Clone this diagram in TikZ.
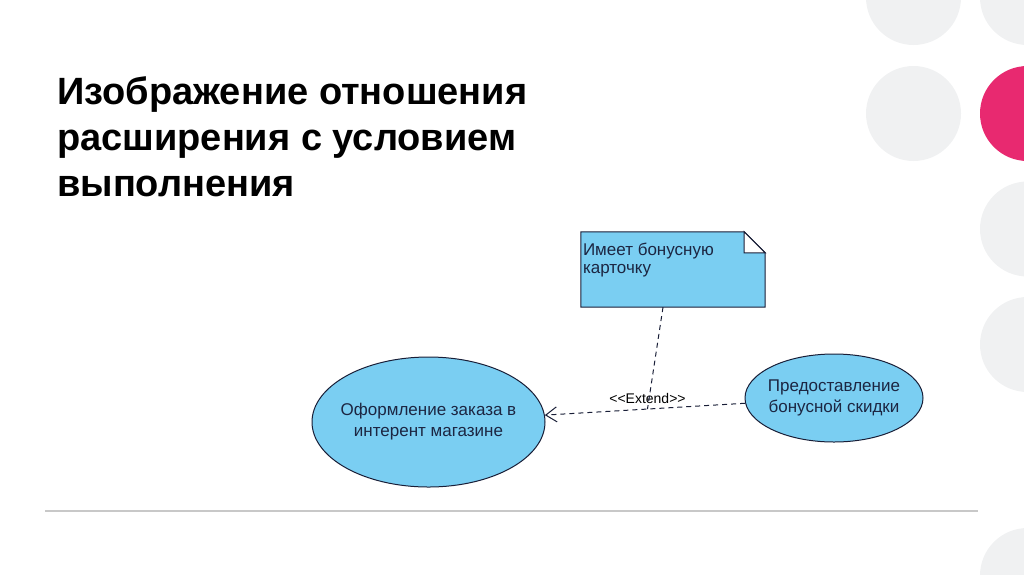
\documentclass[tikz,border=0pt]{standalone}
\usepackage{fontspec}
\setmainfont{Liberation Sans}
\newfontfamily\umlfont{Liberation Sans}
\usetikzlibrary{shapes.geometric, arrows.meta, positioning, calc, backgrounds}
\definecolor{colCase}{RGB}{122,206,242}
\definecolor{colCaseBorder}{RGB}{25,30,55}
\definecolor{colCaseText}{RGB}{28,38,66}
\definecolor{colDot}{RGB}{240,241,242}
\definecolor{colPink}{RGB}{232,41,112}
\definecolor{colRule}{RGB}{200,200,200}

\begin{document}
\begin{tikzpicture}[
            x=1pt, y=-1pt,
            usecase/.style={ellipse, draw=colCaseBorder, fill=colCase, line width=1pt, inner sep=-8pt, align=center, text=colCaseText, font=\umlfont\fontsize{17}{21}\selectfont},
            note/.style={rectangle, draw=none, fill=none, minimum width=184pt, minimum height=75pt, inner sep=0pt},
            notelbl/.style={anchor=north west, inner xsep=2pt, inner ysep=11pt, align=left, text=colCaseText, font=\umlfont\fontsize{17}{18}\selectfont},
            extendline/.style={dash pattern=on 5pt off 4pt, line width=1pt, colCaseBorder},
            lbl/.style={font=\umlfont\fontsize{14}{16}\selectfont, inner sep=1pt}
        ]

        \useasboundingbox (0,0) rectangle (1024,574);
        \clip (0,0) rectangle (1024,574);

        %% ── DÉCOR : CERCLES À DROITE ──────────────────────────
        \foreach \cy in {-2.5,113.5}
            \fill[colDot] (913.5,\cy) circle (47.5pt);
        \foreach \cy in {-2.5,229,344.5,575.5}
            \fill[colDot] (1027.5,\cy) circle (47.5pt);
        \fill[colPink] (1027.5,113.5) circle (47.5pt);

        \draw[colRule, line width=2pt] (45,511) -- (978,511);

        %% ── TITRE ──────────────────────────
        \node[anchor=north west, align=left, inner sep=0pt, font=\fontsize{38}{46}\selectfont\bfseries] (title) at (57,76)
            {Изображение отношения\\расширения с условием\\выполнения};

        %% ── PRÉCÉDENTS ──────────────────────────
        \node[usecase, minimum width=233pt, minimum height=130pt] (order) at (428.5,422) {Оформление заказа в\\интерент магазине};
        \node[usecase, minimum width=178pt, minimum height=88pt] (bonus) at (834,398) {Предоставление\\бонусной скидки};

        %% note avec coin plié
        \node[note, label={[notelbl]north west:{Имеет бонусную\\карточку}}] (card) at (673,269.5) {};
        \begin{scope}[on background layer]
        \filldraw[fill=colCase, draw=colCaseBorder, line width=1pt]
            (card.north west) -- ([xshift=-21pt]card.north east) -- ([yshift=-21pt]card.north east)
            -- (card.south east) -- (card.south west) -- cycle;
        \filldraw[fill=white, draw=colCaseBorder, line width=1pt]
            ([xshift=-21pt]card.north east) -- ([xshift=-21pt, yshift=-21pt]card.north east)
            -- ([yshift=-21pt]card.north east) -- cycle;
        \end{scope}

        %% ── FLÈCHES ──────────────────────────
        \draw[extendline, -{Straight Barb[length=11pt, width=15pt]}] (bonus) -- (order);
        \coordinate (hook) at ($(order)!0.54!(bonus)$);
        \node[lbl, above=4pt of hook] (extlbl) {<<Extend>>};
        \draw[extendline] ([xshift=-10pt]card.south) -- (hook);

\end{tikzpicture}
\end{document}
